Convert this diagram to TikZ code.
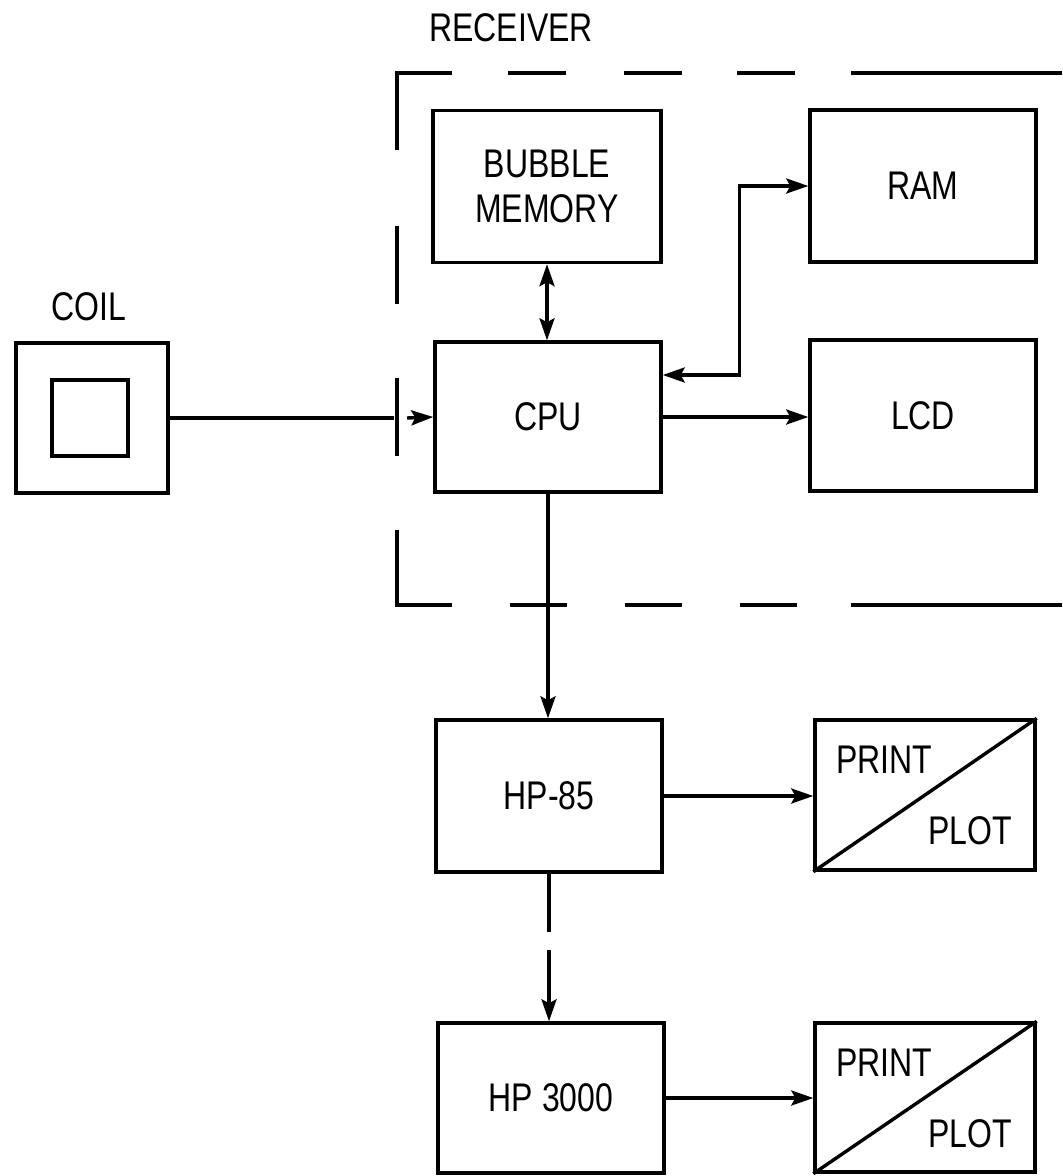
\documentclass[tikz,border=0pt]{standalone}
\usepackage{fontspec}
\setmainfont{Liberation Sans}[FakeStretch=0.8]
\usetikzlibrary{arrows.meta}
\tikzset{
LINE/.style ={draw=black,line join=miter,line cap=butt,line width=1.7pt,>={Stealth[length=11pt,width=7.5pt,inset=2pt]}},
LINK/.style ={LINE,->},
BILINK/.style ={LINE,<->},
BOX/.style={LINE,rectangle,minimum width=113pt,minimum height=76pt,inner sep=0pt,align=center},
LABEL/.style={inner sep=0pt,align=center},
}

\begin{document}
\begin{tikzpicture}
[x=0.5pt,y=-0.5pt,font=\fontsize{20}{22.5}\selectfont]
	\useasboundingbox (0,0) rectangle (1062,1176);
	%Receiver outline
	\path[LINE] (397,150) -- (397,73) -- (452,73);
	\foreach \x in {508,624,737} \path[LINE] (\x,73) -- ++(58,0);
	\path[LINE] (851,73) -- (1062,73);
	\foreach \y in {226,378} \path[LINE] (397,\y) -- ++(0,78);
	\path[LINE] (397,530) -- (397,605) -- (452,605);
	\foreach \x in {510,625,740} \path[LINE] (\x,605) -- ++(57,0);
	\path[LINE] (851,605) -- (1062,605);
	\node[LABEL] (receiver) at (511,28) {RECEIVER};
	%Coil
	\node[LINE,minimum width=76pt,minimum height=75pt] (coil) at (92,418) {};
	\node[LINE,minimum width=38pt,minimum height=38pt] (winding) at (90,418) {};
	\node[LABEL] (coillabel) at (89,307) {COIL};
	%Units
	\node[BOX,minimum width=114pt] (bubble) at (547,186.5) {BUBBLE\\MEMORY};
	\node[BOX] (ram) at (923,186) {RAM};
	\node[BOX,minimum height=75pt] (cpu) at (548,417) {CPU};
	\node[BOX,minimum height=75.5pt] (lcd) at (923,415.5) {LCD};
	\node[BOX] (hp85) at (549,796) {HP-85};
	\node[BOX,minimum width=110pt,minimum height=75pt] (print1) at (925,795) {};
	\node[BOX,minimum height=75pt] (hp3000) at (551,1098) {HP 3000};
	\node[BOX,minimum width=110pt,minimum height=74.5pt] (print2) at (925,1097.5) {};
	%Print / plot
	\foreach \p in {print1,print2} {
		\path[LINE] (\p.south west) -- (\p.north east);
		\node[LABEL] at ([shift={(-41,-35)}]\p.center) {PRINT};
		\node[LABEL] at ([shift={(45,36)}]\p.center) {PLOT};
	}
	%Connections
	\coordinate (gate) at (394,418);
	\coordinate (gateout) at (407,418);
	\path[LINE] (coil.east) -- (gate);
	\path[LINK] (gateout) -- (cpu.west);
	\path[BILINK] (bubble.south) -- (cpu.north -| bubble.south);
	\path[BILINK] (cpu.east |- 0,375) -- ++(77,0) |- (ram.west);
	\path[LINK] (cpu.east) -- (cpu.east -| lcd.west);
	\path[LINK] (cpu.south) -- (hp85.north -| cpu.south);
	\path[LINK] (hp85.east) -- (hp85.east -| print1.west);
	\path[LINK] (hp85.south) -- ++(0,58) ++(0,18) -- (hp3000.north -| hp85.south);
	\path[LINK] (hp3000.east) -- (hp3000.east -| print2.west);
\end{tikzpicture}
\end{document}
